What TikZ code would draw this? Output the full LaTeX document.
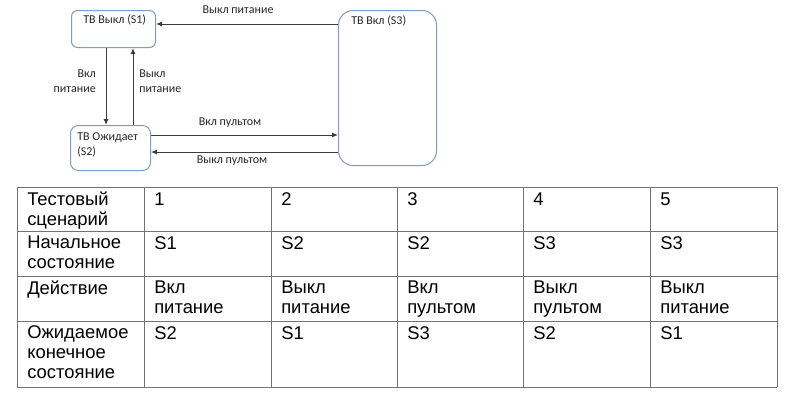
\documentclass[tikz,border=0pt]{standalone}
\usepackage{fontspec}
\setmainfont{Liberation Sans}
\newfontfamily\diagfont{Carlito}
\usetikzlibrary{arrows.meta}
\definecolor{boxblue}{RGB}{126,154,200}
\definecolor{arrgray}{RGB}{60,60,60}
\definecolor{gridgray}{RGB}{115,115,115}

\begin{document}
\begin{tikzpicture}[x=0.75pt,y=-0.75pt,
    statebox/.style={draw=boxblue, line width=0.75pt, inner sep=0pt, anchor=north west},
    lbl/.style={font=\diagfont\fontsize{9}{11}\selectfont, inner sep=0pt, text=black!85},
    lbltop/.style={lbl, execute at begin node=\strut},
    arr/.style={draw=arrgray, line width=0.75pt, -{Latex[length=4.5pt,width=3.8pt]}},
    grid/.style={draw=gridgray, line width=0.75pt},
    cell/.style={font=\fontsize{13.8}{15}\selectfont, inner sep=0pt, anchor=north west, align=left,
        execute at begin node=\strut}]
    \useasboundingbox (0,0) rectangle (795,404);
    % states
    \node[statebox, rounded corners=4.5pt, minimum width=63pt, minimum height=27.75pt] (s1) at (71,10) {};
    \node[statebox, rounded corners=6pt, minimum width=60pt, minimum height=33.75pt] (s2) at (70,125) {};
    \node[statebox, rounded corners=11pt, minimum width=73.5pt, minimum height=116.25pt] (s3) at (338,10) {};
    \node[lbl, anchor=base west] (s1txt) at (83,23) {ТВ Выкл (S1)};
    \node[lbltop, anchor=north west, align=left] (s2txt) at (77,132.7) {ТВ Ожидает\\(S2)};
    \node[lbl, anchor=base west] (s3txt) at (351,24) {ТВ Вкл (S3)};
    % transitions
    \draw[arr] (s3.west |- 0,24) -- (s1.east |- 0,24);
    \draw[arr] (s1.south -| 106,0) -- (s2.north -| 106,0);
    \draw[arr] (s2.north -| 133,0) -- (s1.south -| 133,0);
    \draw[arr] (s2.east |- 0,135) -- (s3.west |- 0,135);
    \draw[arr] (s3.west |- 0,152) -- (s2.east |- 0,152);
    \node[lbl, anchor=base] (offtop) at (238,13) {Выкл питание};
    \node[lbltop, anchor=north east, align=right] (onpow) at (96,69.7) {Вкл\\питание};
    \node[lbltop, anchor=north west, align=left] (offpow) at (139,69.7) {Выкл\\питание};
    \node[lbl, anchor=base] (onrem) at (230,125) {Вкл пультом};
    \node[lbl, anchor=base] (offrem) at (232,163) {Выкл пультом};
    % table
    \foreach \x in {17,144,271,397,523,650,777}
        \draw[grid] (\x,187) -- (\x,387);
    \foreach \y in {187,231,276,321,387}
        \draw[grid] (17,\y) -- (777,\y);
    \foreach \x/\y/\t in {17/187/{Тестовый\\сценарий}, 17/231/{Начальное\\состояние},
        17/276/{Действие}, 17/321/{Ожидаемое\\конечное\\состояние},
        144/187/1, 271/187/2, 397/187/3, 523/187/4, 650/187/5,
        144/231/S1, 271/231/S2, 397/231/S2, 523/231/S3, 650/231/S3,
        144/276/{Вкл\\питание}, 271/276/{Выкл\\питание}, 397/276/{Вкл\\пультом},
        523/276/{Выкл\\пультом}, 650/276/{Выкл\\питание},
        144/321/S2, 271/321/S1, 397/321/S3, 523/321/S2, 650/321/S1}
        \node[cell] (cell-\x-\y) at (\x+10,\y+4.5) {\t};
\end{tikzpicture}
\end{document}
